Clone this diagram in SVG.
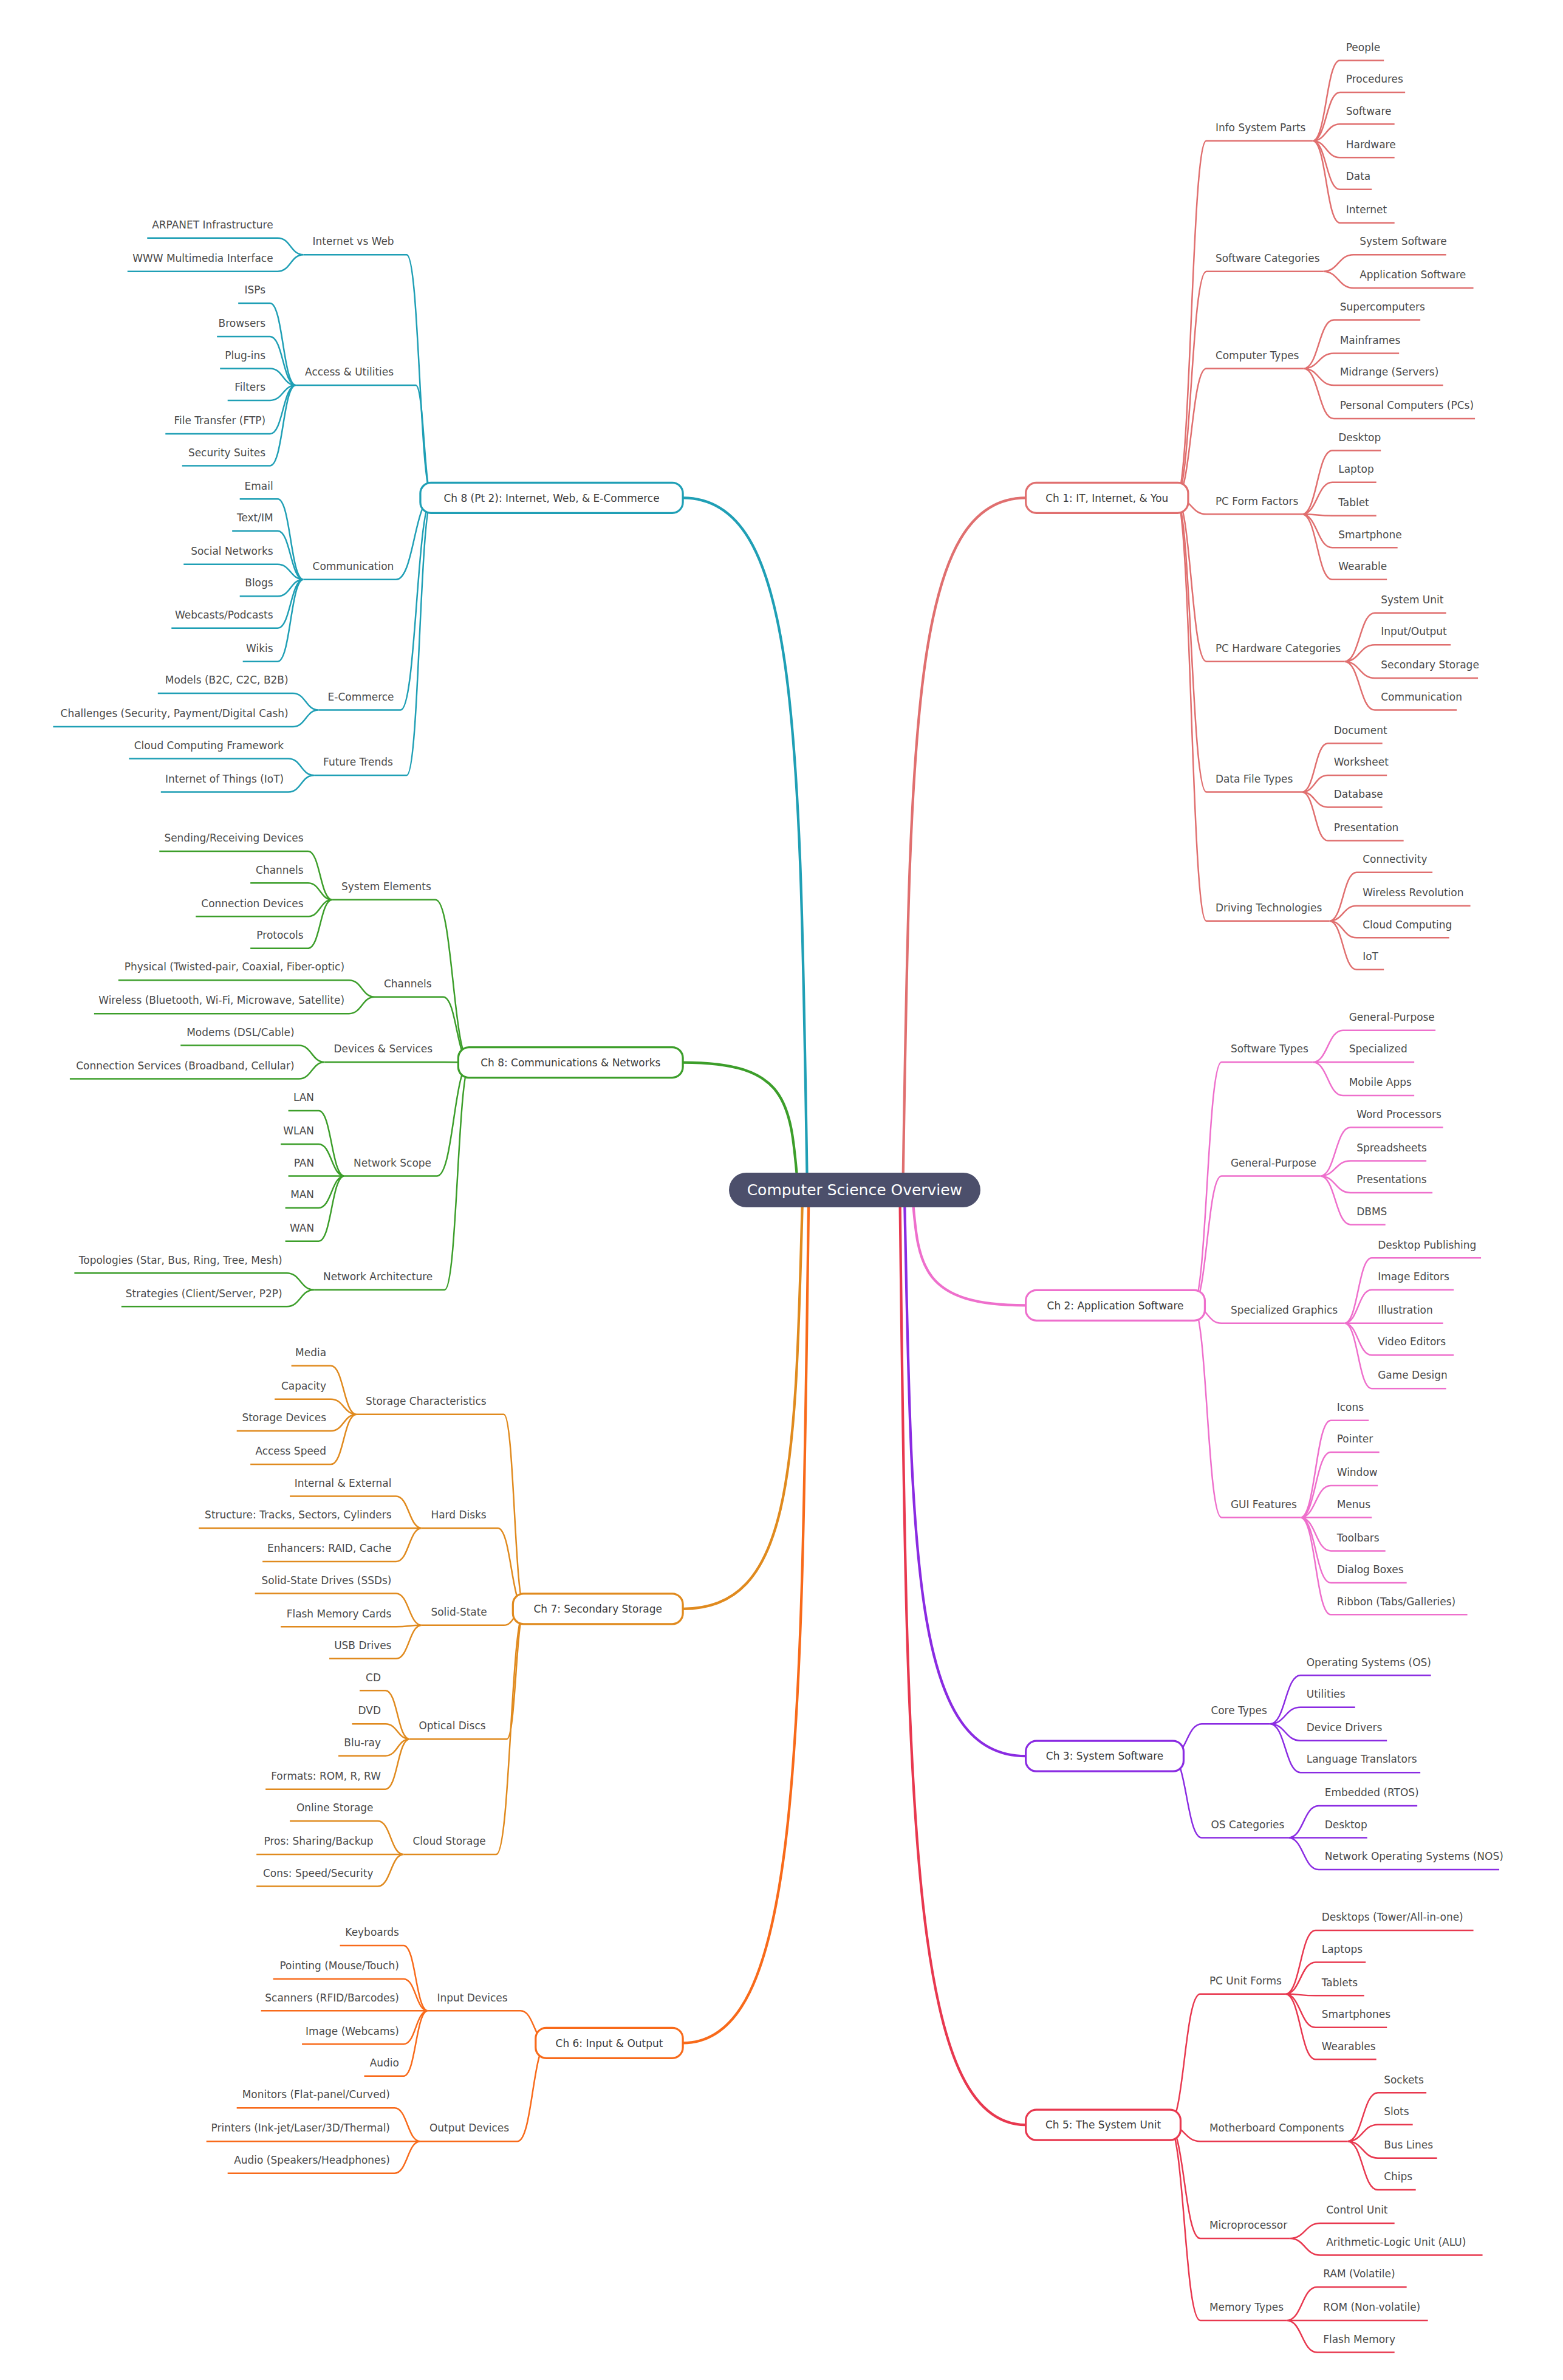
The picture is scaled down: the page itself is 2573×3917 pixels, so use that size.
<svg xmlns="http://www.w3.org/2000/svg" width="2573" height="3917" viewBox="0 0 2573 3917">
<style>
.t{font-family:"DejaVu Sans","Liberation Sans",sans-serif;font-size:6.8px;fill:#4a4a4a}
.e{text-anchor:end}
.n{font-family:"DejaVu Sans","Liberation Sans",sans-serif;font-size:6.8px;fill:#3a3a3a;text-anchor:middle}
.l{fill:none;stroke-width:1}
.m{fill:none;stroke-width:1.7}
.b{fill:#fff;stroke-width:1.3}
.c1{stroke:#e06f6f}.c2{stroke:#ee6fcc}.c3{stroke:#8a2be2}.c5{stroke:#e8384f}
.c6{stroke:#f86a1a}.c7{stroke:#e08a1e}.c8{stroke:#3c9e2a}.c9{stroke:#1f9fb5}
</style>
<rect width="2573" height="3917" fill="#fff"/>
<g transform="scale(2.498)">
<g id="connectors">
<path class="m c1" d="M595 784C600 481.5 600 328 676 328"/>
<path class="m c2" d="M601 784C605 832.6 605 860 676 860"/>
<path class="m c3" d="M596 784C601 1028.5 601 1157 676 1157"/>
<path class="m c5" d="M593 784C598 1189 598 1400 676 1400"/>
<path class="m c9" d="M532 784C527 481.5 527 328 450 328"/>
<path class="m c8" d="M526 784C521 727 521 700 450 700"/>
<path class="m c7" d="M529 784C524 964.5 524 1060 450 1060"/>
<path class="m c6" d="M533 784C528 1153.5 528 1346 450 1346"/>
<g class="l c1">
<path d="M775 328C785 328 785 92.8 795 92.8H865"/>
<path d="M775 328C785 328 785 178.8 795 178.8H872"/>
<path d="M775 328C785 328 785 242.8 795 242.8H859"/>
<path d="M775 328C785 328 785 338.8 795 338.8H858"/>
<path d="M775 328C785 328 785 435.8 795 435.8H886"/>
<path d="M775 328C785 328 785 521.8 795 521.8H858"/>
<path d="M775 328C785 328 785 606.8 795 606.8H876"/>
<path d="M865 92.8C874 92.8 874 39.8 883 39.8H912M865 92.8C874 92.8 874 60.8 883 60.8H926M865 92.8C874 92.8 874 81.8 883 81.8H919M865 92.8C874 92.8 874 103.8 883 103.8H919M865 92.8C874 92.8 874 124.8 883 124.8H904M865 92.8C874 92.8 874 146.8 883 146.8H919"/>
<path d="M872 178.8C882 178.8 882 167.8 892 167.8H953M872 178.8C882 178.8 882 189.8 892 189.8H971"/>
<path d="M859 242.8C869 242.8 869 210.8 879 210.8H936M859 242.8C869 242.8 869 232.8 879 232.8H922M859 242.8C869 242.8 869 253.8 879 253.8H951M859 242.8C869 242.8 869 275.8 879 275.8H972"/>
<path d="M858 338.8C868 338.8 868 296.8 878 296.8H910M858 338.8C868 338.8 868 317.8 878 317.8H907M858 338.8C868 338.8 868 339.8 878 339.8H907M858 338.8C868 338.8 868 360.8 878 360.8H921M858 338.8C868 338.8 868 381.8 878 381.8H914"/>
<path d="M886 435.8C896 435.8 896 403.8 906 403.8H953M886 435.8C896 435.8 896 424.8 906 424.8H956M886 435.8C896 435.8 896 446.8 906 446.8H974M886 435.8C896 435.8 896 467.8 906 467.8H960"/>
<path d="M858 521.8C866.5 521.8 866.5 489.8 875 489.8H911M858 521.8C866.5 521.8 866.5 510.8 875 510.8H914M858 521.8C866.5 521.8 866.5 531.8 875 531.8H911M858 521.8C866.5 521.8 866.5 553.8 875 553.8H925"/>
<path d="M876 606.8C885 606.8 885 574.8 894 574.8H944M876 606.8C885 606.8 885 596.8 894 596.8H969M876 606.8C885 606.8 885 617.8 894 617.8H955M876 606.8C885 606.8 885 638.8 894 638.8H912"/>
</g>
<g class="l c2">
<path d="M786 860C795.5 860 795.5 699.8 805 699.8H865"/>
<path d="M786 860C795.5 860 795.5 774.8 805 774.8H870"/>
<path d="M786 860C795.5 860 795.5 871.8 805 871.8H886"/>
<path d="M786 860C795.5 860 795.5 999.8 805 999.8H857"/>
<path d="M865 699.8C875 699.8 875 678.8 885 678.8H946M865 699.8C875 699.8 875 699.8 885 699.8H932M865 699.8C875 699.8 875 721.8 885 721.8H932"/>
<path d="M870 774.8C880 774.8 880 742.8 890 742.8H951M870 774.8C880 774.8 880 764.8 890 764.8H940M870 774.8C880 774.8 880 785.8 890 785.8H944M870 774.8C880 774.8 880 806.8 890 806.8H913"/>
<path d="M886 871.8C895 871.8 895 828.8 904 828.8H976M886 871.8C895 871.8 895 849.8 904 849.8H958M886 871.8C895 871.8 895 871.8 904 871.8H951M886 871.8C895 871.8 895 892.8 904 892.8H958M886 871.8C895 871.8 895 914.8 904 914.8H953"/>
<path d="M857 999.8C867 999.8 867 935.8 877 935.8H902M857 999.8C867 999.8 867 956.8 877 956.8H909M857 999.8C867 999.8 867 978.8 877 978.8H908M857 999.8C867 999.8 867 999.8 877 999.8H904M857 999.8C867 999.8 867 1021.8 877 1021.8H913M857 999.8C867 999.8 867 1042.8 877 1042.8H927M857 999.8C867 999.8 867 1063.8 877 1063.8H967"/>
</g>
<g class="l c3">
<path d="M772 1157C782 1157 782 1135.8 792 1135.8H837"/>
<path d="M772 1157C782 1157 782 1210.8 792 1210.8H849"/>
<path d="M837 1135.8C847 1135.8 847 1103.8 857 1103.8H943M837 1135.8C847 1135.8 847 1124.8 857 1124.8H893M837 1135.8C847 1135.8 847 1146.8 857 1146.8H914M837 1135.8C847 1135.8 847 1167.8 857 1167.8H936"/>
<path d="M849 1210.8C859 1210.8 859 1189.8 869 1189.8H934M849 1210.8C859 1210.8 859 1210.8 869 1210.8H901M849 1210.8C859 1210.8 859 1231.8 869 1231.8H988"/>
</g>
<g class="l c5">
<path d="M770 1400C780.5 1400 780.5 1313.8 791 1313.8H847"/>
<path d="M770 1400C780.5 1400 780.5 1410.8 791 1410.8H888"/>
<path d="M770 1400C780.5 1400 780.5 1474.8 791 1474.8H850"/>
<path d="M770 1400C780.5 1400 780.5 1528.8 791 1528.8H848"/>
<path d="M847 1313.8C857 1313.8 857 1271.8 867 1271.8H971M847 1313.8C857 1313.8 857 1292.8 867 1292.8H900M847 1313.8C857 1313.8 857 1314.8 867 1314.8H899M847 1313.8C857 1313.8 857 1335.8 867 1335.8H914M847 1313.8C857 1313.8 857 1356.8 867 1356.8H907"/>
<path d="M888 1410.8C898 1410.8 898 1378.8 908 1378.8H940M888 1410.8C898 1410.8 898 1399.8 908 1399.8H931M888 1410.8C898 1410.8 898 1421.8 908 1421.8H947M888 1410.8C898 1410.8 898 1442.8 908 1442.8H933"/>
<path d="M850 1474.8C860 1474.8 860 1464.8 870 1464.8H919M850 1474.8C860 1474.8 860 1485.8 870 1485.8H977"/>
<path d="M848 1528.8C858 1528.8 858 1506.8 868 1506.8H927M848 1528.8C858 1528.8 858 1528.8 868 1528.8H941M848 1528.8C858 1528.8 858 1549.8 868 1549.8H919"/>
</g>
<g class="l c9">
<path d="M285 328C276.5 328 276.5 167.8 268 167.8H200"/>
<path d="M285 328C279.5 328 279.5 253.8 274 253.8H195"/>
<path d="M285 328C273 328 273 381.8 261 381.8H200"/>
<path d="M285 328C274.5 328 274.5 467.8 264 467.8H210"/>
<path d="M285 328C276.5 328 276.5 510.8 268 510.8H207"/>
<path d="M200 167.8C191.5 167.8 191.5 156.8 183 156.8H97M200 167.8C191.5 167.8 191.5 178.8 183 178.8H84"/>
<path d="M195 253.8C186.5 253.8 186.5 199.8 178 199.8H157M195 253.8C186.5 253.8 186.5 221.8 178 221.8H143M195 253.8C186.5 253.8 186.5 242.8 178 242.8H145M195 253.8C186.5 253.8 186.5 263.8 178 263.8H150M195 253.8C186.5 253.8 186.5 285.8 178 285.8H109M195 253.8C186.5 253.8 186.5 306.8 178 306.8H120"/>
<path d="M200 381.8C191.5 381.8 191.5 328.8 183 328.8H158M200 381.8C191.5 381.8 191.5 349.8 183 349.8H153M200 381.8C191.5 381.8 191.5 371.8 183 371.8H121M200 381.8C191.5 381.8 191.5 392.8 183 392.8H158M200 381.8C191.5 381.8 191.5 413.8 183 413.8H113M200 381.8C191.5 381.8 191.5 435.8 183 435.8H160"/>
<path d="M210 467.8C201.5 467.8 201.5 456.8 193 456.8H104M210 467.8C201.5 467.8 201.5 478.8 193 478.8H35"/>
<path d="M207 510.8C198.5 510.8 198.5 499.8 190 499.8H85M207 510.8C198.5 510.8 198.5 521.8 190 521.8H106"/>
</g>
<g class="l c8">
<path d="M310 700C298.5 700 298.5 592.8 287 592.8H219"/>
<path d="M310 700C301 700 301 656.8 292 656.8H247"/>
<path d="M310 700C301.5 700 301.5 699.8 293 699.8H214"/>
<path d="M310 700C299 700 299 774.8 288 774.8H227"/>
<path d="M310 700C301.5 700 301.5 849.8 293 849.8H207"/>
<path d="M219 592.8C211 592.8 211 560.8 203 560.8H105M219 592.8C211 592.8 211 581.8 203 581.8H165M219 592.8C211 592.8 211 603.8 203 603.8H129M219 592.8C211 592.8 211 624.8 203 624.8H165"/>
<path d="M247 656.8C238.5 656.8 238.5 645.8 230 645.8H78M247 656.8C238.5 656.8 238.5 667.8 230 667.8H62"/>
<path d="M214 699.8C205.5 699.8 205.5 688.8 197 688.8H119M214 699.8C205.5 699.8 205.5 710.8 197 710.8H46"/>
<path d="M227 774.8C218.5 774.8 218.5 731.8 210 731.8H190M227 774.8C218.5 774.8 218.5 753.8 210 753.8H185M227 774.8C218.5 774.8 218.5 774.8 210 774.8H190M227 774.8C218.5 774.8 218.5 795.8 210 795.8H188M227 774.8C218.5 774.8 218.5 817.8 210 817.8H188"/>
<path d="M207 849.8C198 849.8 198 838.8 189 838.8H49M207 849.8C198 849.8 198 860.8 189 860.8H80"/>
</g>
<g class="l c7">
<path d="M346 1060C339 1060 339 931.8 332 931.8H235"/>
<path d="M346 1060C337 1060 337 1006.8 328 1006.8H278"/>
<path d="M346 1060C339 1060 339 1070.8 332 1070.8H278"/>
<path d="M346 1060C340 1060 340 1145.8 334 1145.8H270"/>
<path d="M346 1060C336.5 1060 336.5 1221.8 327 1221.8H266"/>
<path d="M235 931.8C226.5 931.8 226.5 899.8 218 899.8H192M235 931.8C226.5 931.8 226.5 921.8 218 921.8H181M235 931.8C226.5 931.8 226.5 942.8 218 942.8H156M235 931.8C226.5 931.8 226.5 964.8 218 964.8H165"/>
<path d="M278 1006.8C269.5 1006.8 269.5 985.8 261 985.8H191M278 1006.8C269.5 1006.8 269.5 1006.8 261 1006.8H131M278 1006.8C269.5 1006.8 269.5 1028.8 261 1028.8H173"/>
<path d="M278 1070.8C269.5 1070.8 269.5 1049.8 261 1049.8H168M278 1070.8C269.5 1070.8 269.5 1071.8 261 1071.8H185M278 1070.8C269.5 1070.8 269.5 1092.8 261 1092.8H217"/>
<path d="M270 1145.8C262 1145.8 262 1113.8 254 1113.8H237M270 1145.8C262 1145.8 262 1135.8 254 1135.8H232M270 1145.8C262 1145.8 262 1156.8 254 1156.8H223M270 1145.8C262 1145.8 262 1178.8 254 1178.8H175"/>
<path d="M266 1221.8C257.5 1221.8 257.5 1199.8 249 1199.8H191M266 1221.8C257.5 1221.8 257.5 1221.8 249 1221.8H169M266 1221.8C257.5 1221.8 257.5 1242.8 249 1242.8H169"/>
</g>
<g class="l c6">
<path d="M361 1346C352 1346 352 1324.8 343 1324.8H282"/>
<path d="M361 1346C351 1346 351 1410.8 341 1410.8H277"/>
<path d="M282 1324.8C274 1324.8 274 1281.8 266 1281.8H224M282 1324.8C274 1324.8 274 1303.8 266 1303.8H180M282 1324.8C274 1324.8 274 1324.8 266 1324.8H172M282 1324.8C274 1324.8 274 1346.8 266 1346.8H199M282 1324.8C274 1324.8 274 1367.8 266 1367.8H240"/>
<path d="M277 1410.8C268.5 1410.8 268.5 1388.8 260 1388.8H156M277 1410.8C268.5 1410.8 268.5 1410.8 260 1410.8H136M277 1410.8C268.5 1410.8 268.5 1431.8 260 1431.8H150"/>
</g>
</g>
<g id="root"><rect x="480.4" y="772.6" width="165.7" height="22.8" rx="11.4" fill="#4c4f6b"/><text x="563.2" y="787.6" text-anchor="middle" style="font-family:'DejaVu Sans','Liberation Sans',sans-serif;font-size:10px;fill:#fff">Computer Science Overview</text></g>
<g id="ch1"><rect class="b c1" x="676" y="318" width="107" height="20" rx="7"/><text class="n" x="729.5" y="330.5">Ch 1: IT, Internet, &amp; You</text>
<g class="t"><text x="801" y="86.5">Info System Parts</text><text x="887" y="33.5">People</text><text x="887" y="54.5">Procedures</text><text x="887" y="75.5">Software</text><text x="887" y="97.5">Hardware</text><text x="887" y="118.5">Data</text><text x="887" y="140.5">Internet</text>
<text x="801" y="172.5">Software Categories</text><text x="896" y="161.5">System Software</text><text x="896" y="183.5">Application Software</text>
<text x="801" y="236.5">Computer Types</text><text x="883" y="204.5">Supercomputers</text><text x="883" y="226.5">Mainframes</text><text x="883" y="247.5">Midrange (Servers)</text><text x="883" y="269.5">Personal Computers (PCs)</text>
<text x="801" y="332.5">PC Form Factors</text><text x="882" y="290.5">Desktop</text><text x="882" y="311.5">Laptop</text><text x="882" y="333.5">Tablet</text><text x="882" y="354.5">Smartphone</text><text x="882" y="375.5">Wearable</text>
<text x="801" y="429.5">PC Hardware Categories</text><text x="910" y="397.5">System Unit</text><text x="910" y="418.5">Input/Output</text><text x="910" y="440.5">Secondary Storage</text><text x="910" y="461.5">Communication</text>
<text x="801" y="515.5">Data File Types</text><text x="879" y="483.5">Document</text><text x="879" y="504.5">Worksheet</text><text x="879" y="525.5">Database</text><text x="879" y="547.5">Presentation</text>
<text x="801" y="600.5">Driving Technologies</text><text x="898" y="568.5">Connectivity</text><text x="898" y="590.5">Wireless Revolution</text><text x="898" y="611.5">Cloud Computing</text><text x="898" y="632.5">IoT</text></g></g>
<g id="ch2"><rect class="b c2" x="676" y="850" width="118" height="20" rx="7"/><text class="n" x="735" y="862.5">Ch 2: Application Software</text>
<g class="t"><text x="811" y="693.5">Software Types</text><text x="889" y="672.5">General-Purpose</text><text x="889" y="693.5">Specialized</text><text x="889" y="715.5">Mobile Apps</text>
<text x="811" y="768.5">General-Purpose</text><text x="894" y="736.5">Word Processors</text><text x="894" y="758.5">Spreadsheets</text><text x="894" y="779.5">Presentations</text><text x="894" y="800.5">DBMS</text>
<text x="811" y="865.5">Specialized Graphics</text><text x="908" y="822.5">Desktop Publishing</text><text x="908" y="843.5">Image Editors</text><text x="908" y="865.5">Illustration</text><text x="908" y="886.5">Video Editors</text><text x="908" y="908.5">Game Design</text>
<text x="811" y="993.5">GUI Features</text><text x="881" y="929.5">Icons</text><text x="881" y="950.5">Pointer</text><text x="881" y="972.5">Window</text><text x="881" y="993.5">Menus</text><text x="881" y="1015.5">Toolbars</text><text x="881" y="1036.5">Dialog Boxes</text><text x="881" y="1057.5">Ribbon (Tabs/Galleries)</text></g></g>
<g id="ch3"><rect class="b c3" x="676" y="1147" width="104" height="20" rx="7"/><text class="n" x="728" y="1159.5">Ch 3: System Software</text>
<g class="t"><text x="798" y="1129.5">Core Types</text><text x="861" y="1097.5">Operating Systems (OS)</text><text x="861" y="1118.5">Utilities</text><text x="861" y="1140.5">Device Drivers</text><text x="861" y="1161.5">Language Translators</text>
<text x="798" y="1204.5">OS Categories</text><text x="873" y="1183.5">Embedded (RTOS)</text><text x="873" y="1204.5">Desktop</text><text x="873" y="1225.5">Network Operating Systems (NOS)</text></g></g>
<g id="ch5"><rect class="b c5" x="676" y="1390" width="102" height="20" rx="7"/><text class="n" x="727" y="1402.5">Ch 5: The System Unit</text>
<g class="t"><text x="797" y="1307.5">PC Unit Forms</text><text x="871" y="1265.5">Desktops (Tower/All-in-one)</text><text x="871" y="1286.5">Laptops</text><text x="871" y="1308.5">Tablets</text><text x="871" y="1329.5">Smartphones</text><text x="871" y="1350.5">Wearables</text>
<text x="797" y="1404.5">Motherboard Components</text><text x="912" y="1372.5">Sockets</text><text x="912" y="1393.5">Slots</text><text x="912" y="1415.5">Bus Lines</text><text x="912" y="1436.5">Chips</text>
<text x="797" y="1468.5">Microprocessor</text><text x="874" y="1458.5">Control Unit</text><text x="874" y="1479.5">Arithmetic-Logic Unit (ALU)</text>
<text x="797" y="1522.5">Memory Types</text><text x="872" y="1500.5">RAM (Volatile)</text><text x="872" y="1522.5">ROM (Non-volatile)</text><text x="872" y="1543.5">Flash Memory</text></g></g>
<g id="ch8b"><rect class="b c9" x="277" y="318" width="173" height="20" rx="7"/><text class="n" x="363.5" y="330.5">Ch 8 (Pt 2): Internet, Web, &amp; E-Commerce</text>
<g class="t"><text x="206" y="161.5">Internet vs Web</text><text class="e" x="180" y="150.5">ARPANET Infrastructure</text><text class="e" x="180" y="172.5">WWW Multimedia Interface</text>
<text x="201" y="247.5">Access &amp; Utilities</text><text class="e" x="175" y="193.5">ISPs</text><text class="e" x="175" y="215.5">Browsers</text><text class="e" x="175" y="236.5">Plug-ins</text><text class="e" x="175" y="257.5">Filters</text><text class="e" x="175" y="279.5">File Transfer (FTP)</text><text class="e" x="175" y="300.5">Security Suites</text>
<text x="206" y="375.5">Communication</text><text class="e" x="180" y="322.5">Email</text><text class="e" x="180" y="343.5">Text/IM</text><text class="e" x="180" y="365.5">Social Networks</text><text class="e" x="180" y="386.5">Blogs</text><text class="e" x="180" y="407.5">Webcasts/Podcasts</text><text class="e" x="180" y="429.5">Wikis</text>
<text x="216" y="461.5">E-Commerce</text><text class="e" x="190" y="450.5">Models (B2C, C2C, B2B)</text><text class="e" x="190" y="472.5">Challenges (Security, Payment/Digital Cash)</text>
<text x="213" y="504.5">Future Trends</text><text class="e" x="187" y="493.5">Cloud Computing Framework</text><text class="e" x="187" y="515.5">Internet of Things (IoT)</text></g></g>
<g id="ch8"><rect class="b c8" x="302" y="690" width="148" height="20" rx="7"/><text class="n" x="376" y="702.5">Ch 8: Communications &amp; Networks</text>
<g class="t"><text x="225" y="586.5">System Elements</text><text class="e" x="200" y="554.5">Sending/Receiving Devices</text><text class="e" x="200" y="575.5">Channels</text><text class="e" x="200" y="597.5">Connection Devices</text><text class="e" x="200" y="618.5">Protocols</text>
<text x="253" y="650.5">Channels</text><text class="e" x="227" y="639.5">Physical (Twisted-pair, Coaxial, Fiber-optic)</text><text class="e" x="227" y="661.5">Wireless (Bluetooth, Wi-Fi, Microwave, Satellite)</text>
<text x="220" y="693.5">Devices &amp; Services</text><text class="e" x="194" y="682.5">Modems (DSL/Cable)</text><text class="e" x="194" y="704.5">Connection Services (Broadband, Cellular)</text>
<text x="233" y="768.5">Network Scope</text><text class="e" x="207" y="725.5">LAN</text><text class="e" x="207" y="747.5">WLAN</text><text class="e" x="207" y="768.5">PAN</text><text class="e" x="207" y="789.5">MAN</text><text class="e" x="207" y="811.5">WAN</text>
<text x="213" y="843.5">Network Architecture</text><text class="e" x="186" y="832.5">Topologies (Star, Bus, Ring, Tree, Mesh)</text><text class="e" x="186" y="854.5">Strategies (Client/Server, P2P)</text></g></g>
<g id="ch7"><rect class="b c7" x="338" y="1050" width="112" height="20" rx="7"/><text class="n" x="394" y="1062.5">Ch 7: Secondary Storage</text>
<g class="t"><text x="241" y="925.5">Storage Characteristics</text><text class="e" x="215" y="893.5">Media</text><text class="e" x="215" y="915.5">Capacity</text><text class="e" x="215" y="936.5">Storage Devices</text><text class="e" x="215" y="958.5">Access Speed</text>
<text x="284" y="1000.5">Hard Disks</text><text class="e" x="258" y="979.5">Internal &amp; External</text><text class="e" x="258" y="1000.5">Structure: Tracks, Sectors, Cylinders</text><text class="e" x="258" y="1022.5">Enhancers: RAID, Cache</text>
<text x="284" y="1064.5">Solid-State</text><text class="e" x="258" y="1043.5">Solid-State Drives (SSDs)</text><text class="e" x="258" y="1065.5">Flash Memory Cards</text><text class="e" x="258" y="1086.5">USB Drives</text>
<text x="276" y="1139.5">Optical Discs</text><text class="e" x="251" y="1107.5">CD</text><text class="e" x="251" y="1129.5">DVD</text><text class="e" x="251" y="1150.5">Blu-ray</text><text class="e" x="251" y="1172.5">Formats: ROM, R, RW</text>
<text x="272" y="1215.5">Cloud Storage</text><text class="e" x="246" y="1193.5">Online Storage</text><text class="e" x="246" y="1215.5">Pros: Sharing/Backup</text><text class="e" x="246" y="1236.5">Cons: Speed/Security</text></g></g>
<g id="ch6"><rect class="b c6" x="353" y="1336" width="97" height="20" rx="7"/><text class="n" x="401.5" y="1348.5">Ch 6: Input &amp; Output</text>
<g class="t"><text x="288" y="1318.5">Input Devices</text><text class="e" x="263" y="1275.5">Keyboards</text><text class="e" x="263" y="1297.5">Pointing (Mouse/Touch)</text><text class="e" x="263" y="1318.5">Scanners (RFID/Barcodes)</text><text class="e" x="263" y="1340.5">Image (Webcams)</text><text class="e" x="263" y="1361.5">Audio</text>
<text x="283" y="1404.5">Output Devices</text><text class="e" x="257" y="1382.5">Monitors (Flat-panel/Curved)</text><text class="e" x="257" y="1404.5">Printers (Ink-jet/Laser/3D/Thermal)</text><text class="e" x="257" y="1425.5">Audio (Speakers/Headphones)</text></g></g>
</g>
</svg>
